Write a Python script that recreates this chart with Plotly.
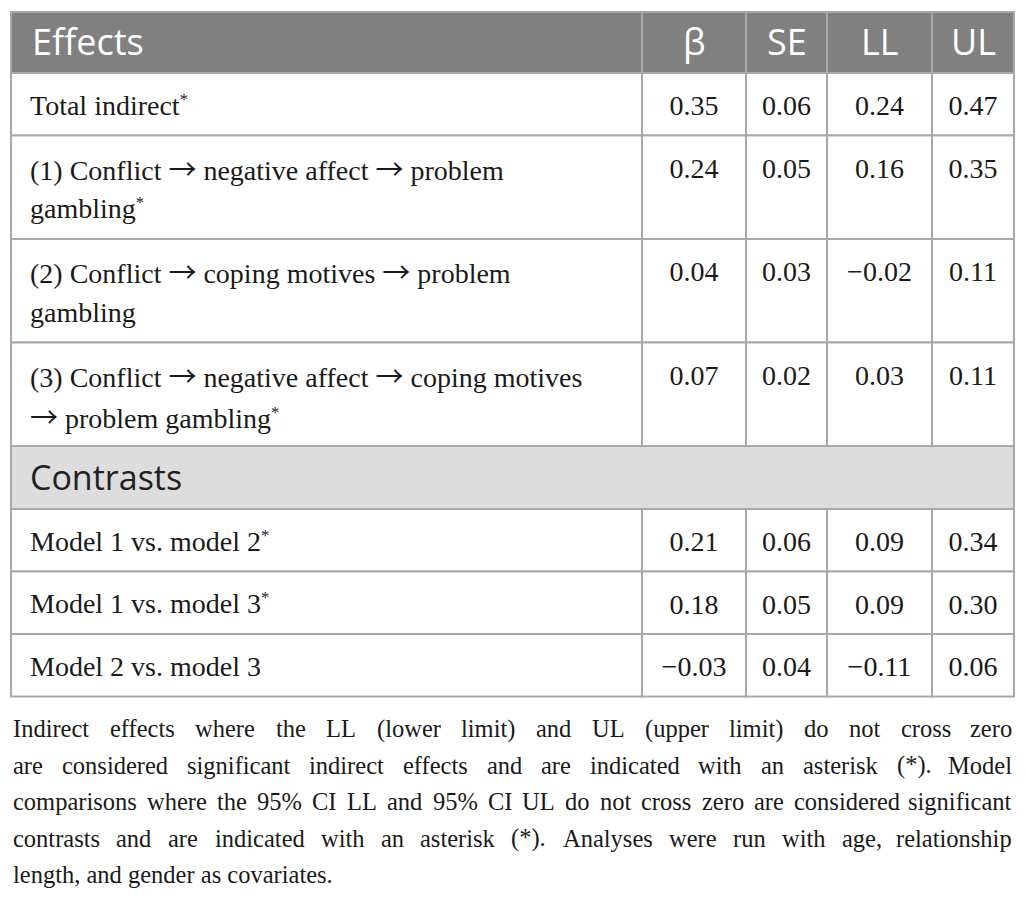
import plotly.graph_objects as go

# ---- table data ----
header = ["Effects", "β", "SE", "LL", "UL"]

effect_labels = [
    "Total indirect*",
    "(1) Conflict → negative affect → problem\ngambling*",
    "(2) Conflict → coping motives → problem\ngambling",
    "(3) Conflict → negative affect → coping motives\n→ problem gambling*",
]
effect_beta = [0.35, 0.24, 0.04, 0.07]
effect_se = [0.06, 0.05, 0.03, 0.02]
effect_ll = [0.24, 0.16, -0.02, 0.03]
effect_ul = [0.47, 0.35, 0.11, 0.11]

section_label = "Contrasts"
contrast_labels = [
    "Model 1 vs. model 2*",
    "Model 1 vs. model 3*",
    "Model 2 vs. model 3",
]
contrast_beta = [0.21, 0.18, -0.03]
contrast_se = [0.06, 0.05, 0.04]
contrast_ll = [0.09, 0.09, -0.11]
contrast_ul = [0.34, 0.30, 0.06]

note_lines = [
    "Indirect effects where the LL (lower limit) and UL (upper limit) do not cross zero",
    "are considered significant indirect effects and are indicated with an asterisk (*). Model",
    "comparisons where the 95% CI LL and 95% CI UL do not cross zero are considered significant",
    "contrasts and are indicated with an asterisk (*). Analyses were run with age, relationship",
    "length, and gender as covariates.",
]

# ---- layout constants ----
W, H = 1026, 906
PAGE_MARGIN = 8          # default body margin of the html page
col_edges = [11, 642, 746, 827, 932, 1014]
TOP = 12
HEAD_H = 61
SECTION_H = 63
LINE_H = 41
ROW_PAD = 21.5
GRID = "#a8a8a8"
HEAD_FILL = "#808080"
SECTION_FILL = "#dddddd"
SANS = "Open Sans"
SERIF = "Liberation Serif"
BODY_SIZE = 28
HEAD_SIZE = 36
NOTE_SIZE = 24.5
TEXT_COL = "#1a1a1a"


def fmt(v):
    return f"{v:.2f}".replace("-", "\u2212")


def rich(s):
    # thin long arrow and a small raised asterisk, closer to the source typesetting
    s = s.replace("→", '<span style="font-family:Noto Sans CJK JP">→</span>')
    s = s.replace("*", '<span style="font-size:24px"><sup>*</sup></span>')
    return s


rows = [dict(kind="head")]
for lab, vals in zip(effect_labels, zip(effect_beta, effect_se, effect_ll, effect_ul)):
    rows.append(dict(kind="row", label=lab, vals=vals))
rows.append(dict(kind="section", label=section_label))
for lab, vals in zip(contrast_labels, zip(contrast_beta, contrast_se, contrast_ll, contrast_ul)):
    rows.append(dict(kind="row", label=lab, vals=vals))

shapes = []
annotations = []
num_x, num_y, num_text = [], [], []
centers = [(col_edges[i] + col_edges[i + 1]) / 2 for i in range(len(col_edges) - 1)]

y = TOP
for r in rows:
    if r["kind"] == "head":
        h = HEAD_H
        for i in range(5):
            shapes.append(dict(type="rect", x0=col_edges[i], x1=col_edges[i + 1], y0=y, y1=y + h,
                               fillcolor=HEAD_FILL, line=dict(color=GRID, width=2), layer="below"))
        for i, name in enumerate(header):
            annotations.append(dict(
                x=col_edges[0] + 20 if i == 0 else centers[i], y=y + 29,
                xanchor="left" if i == 0 else "center", yanchor="middle",
                text=name, font=dict(family=SANS, size=HEAD_SIZE, color="white")))
    elif r["kind"] == "section":
        h = SECTION_H
        shapes.append(dict(type="rect", x0=col_edges[0], x1=col_edges[-1], y0=y, y1=y + h,
                           fillcolor=SECTION_FILL, line=dict(color=GRID, width=2), layer="below"))
        annotations.append(dict(
            x=col_edges[0] + 18, y=y + 31, xanchor="left", yanchor="middle",
            text=r["label"], font=dict(family=SANS, size=HEAD_SIZE - 2, color="#222222")))
    else:
        lines = r["label"].split("\n")
        h = ROW_PAD + LINE_H * len(lines)
        for i in range(5):
            shapes.append(dict(type="rect", x0=col_edges[i], x1=col_edges[i + 1], y0=y, y1=y + h,
                               fillcolor="white", line=dict(color=GRID, width=2), layer="below"))
        for k, ln in enumerate(lines):
            annotations.append(dict(
                x=col_edges[0] + 18, y=y + 32 + LINE_H * k, xanchor="left", yanchor="middle",
                text=rich(ln), font=dict(family=SERIF, size=BODY_SIZE, color=TEXT_COL)))
        for i, v in enumerate(r["vals"]):
            num_x.append(centers[i + 1])
            num_y.append(y + 35)
            num_text.append(fmt(v))
    y += h

# ---- footnote, justified using Times metrics (Liberation Serif is metric compatible) ----
TIMES = {" ": 250, "(": 333, ")": 333, "*": 500, ",": 250, ".": 250, "%": 833,
         "A": 722, "C": 667, "I": 333, "L": 611, "M": 889, "U": 722,
         "a": 444, "b": 500, "c": 444, "d": 500, "e": 444, "f": 333, "g": 500, "h": 500,
         "i": 278, "j": 278, "k": 500, "l": 278, "m": 778, "n": 500, "o": 500, "p": 500,
         "q": 500, "r": 333, "s": 389, "t": 278, "u": 500, "v": 500, "w": 722, "x": 500,
         "y": 500, "z": 444}


def text_w(s, size):
    return sum(TIMES.get(c, 500) for c in s) / 1000 * size


note_left, note_right = 12, 1013
base0, note_step = 737, 36.5
for k, ln in enumerate(note_lines):
    cy = base0 + note_step * k - 8.3
    words = ln.split(" ")
    if k == len(note_lines) - 1:
        annotations.append(dict(x=note_left, y=cy, xanchor="left", yanchor="middle", text=ln,
                                font=dict(family=SERIF, size=NOTE_SIZE, color=TEXT_COL)))
        continue
    ws = [text_w(w, NOTE_SIZE) for w in words]
    gap = (note_right - note_left - sum(ws)) / (len(words) - 1)
    x = note_left
    for j, w in enumerate(words):
        last = j == len(words) - 1
        annotations.append(dict(x=note_right if last else x, y=cy,
                                xanchor="right" if last else "left", yanchor="middle", text=w,
                                font=dict(family=SERIF, size=NOTE_SIZE, color=TEXT_COL)))
        x += ws[j] + gap

for a in annotations:
    a.update(xref="x", yref="y", showarrow=False, borderpad=0)

fig = go.Figure()
fig.add_trace(go.Scatter(
    x=num_x, y=num_y, text=num_text, mode="text", textposition="middle center",
    textfont=dict(family=SERIF, size=BODY_SIZE, color=TEXT_COL),
    hoverinfo="skip", showlegend=False))

# the figure sits inside the page margin; map its pixels straight onto page coordinates
fig.update_layout(
    width=W - 2 * PAGE_MARGIN, height=H - 2 * PAGE_MARGIN,
    margin=dict(l=0, r=0, t=0, b=0),
    paper_bgcolor="white", plot_bgcolor="white",
    xaxis=dict(range=[PAGE_MARGIN, W - PAGE_MARGIN], visible=False, fixedrange=True),
    yaxis=dict(range=[H - PAGE_MARGIN, PAGE_MARGIN], visible=False, fixedrange=True),
    shapes=shapes, annotations=annotations,
)

fig.write_html("out.html")
